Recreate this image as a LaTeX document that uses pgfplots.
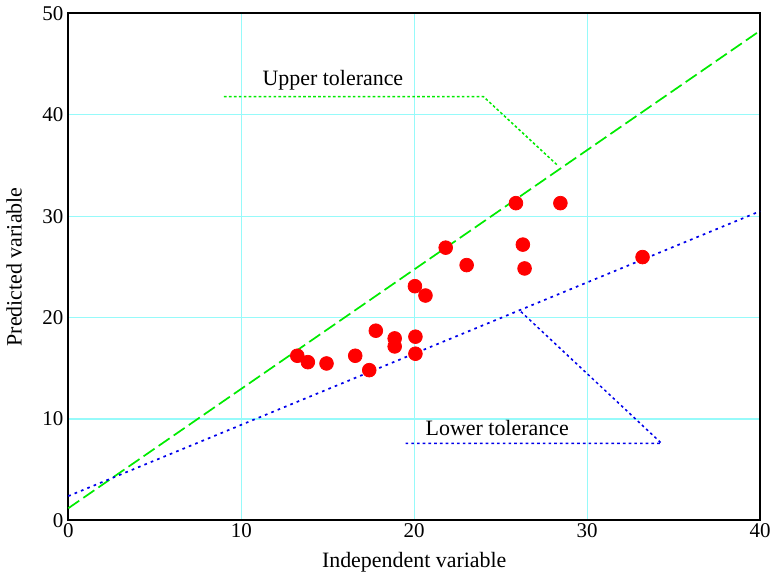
\documentclass[border=0pt]{standalone}
\usepackage{fontspec}
\setmainfont{Liberation Serif}
\usepackage{pgfplots}
\pgfplotsset{compat=1.18}
\definecolor{gridcyan}{RGB}{150,250,250}
\definecolor{tolgreen}{RGB}{0,235,0}
\definecolor{tolblue}{RGB}{0,0,235}

\begin{document}
\begin{tikzpicture}
\begin{axis}[
    scale only axis,
    width=363pt, height=266pt,
    xmin=0, xmax=40, ymin=0, ymax=50,
    xtick={0,10,20,30,40}, ytick={0,10,20,30,40,50},
    grid=major,
    grid style={gridcyan, line width=0.6pt},
    axis line style={black, line width=1.1pt},
    major tick length=0pt,
    /pgf/number format/assume math mode=true,
    tick label style={font=\fontsize{11}{13}\selectfont},
    xticklabel style={yshift=2pt},
    yticklabel style={xshift=1pt},
    xlabel={Independent variable},
    ylabel={Predicted variable},
    label style={font=\fontsize{11.5}{13}\selectfont},
    xlabel style={yshift=-1pt},
    ylabel style={yshift=4pt},
    clip=false,
]
% upper tolerance line
\addplot[tolgreen, line width=0.9pt, dash pattern=on 7pt off 2.6pt] coordinates {(0,1.2) (40,48.3)};
% lower tolerance line
\addplot[tolblue, line width=0.9pt, dash pattern=on 1.4pt off 2.2pt] coordinates {(0,2.4) (40,30.5)};
% callouts
\addplot[tolgreen, line width=0.8pt, dash pattern=on 1.4pt off 1.2pt] coordinates {(9.0,41.8) (24.0,41.8) (28.3,35.0)};
\addplot[tolblue, line width=0.8pt, dash pattern=on 1.4pt off 1.6pt] coordinates {(19.5,7.6) (34.3,7.6) (26.1,20.7)};
\node[font=\fontsize{11.5}{13}\selectfont] at (axis cs:15.3,43.4) {Upper tolerance};
\node[font=\fontsize{11.5}{13}\selectfont] at (axis cs:24.8,9.1) {Lower tolerance};
% data
\addplot[only marks, mark=*, mark size=3.6pt, red, mark options={fill=red, draw=red}] coordinates {
    (13.24,16.24) (13.85,15.61) (14.93,15.48) (16.59,16.24) (17.40,14.82)
    (17.78,18.71) (18.87,17.95) (18.87,17.16) (20.07,18.12) (20.07,16.44)
    (20.04,23.10) (20.65,22.18) (21.82,26.90) (23.03,25.18) (25.88,31.29)
    (28.45,31.29) (26.28,27.20) (26.38,24.85) (33.20,25.97)
};
\end{axis}
\end{tikzpicture}
\end{document}
